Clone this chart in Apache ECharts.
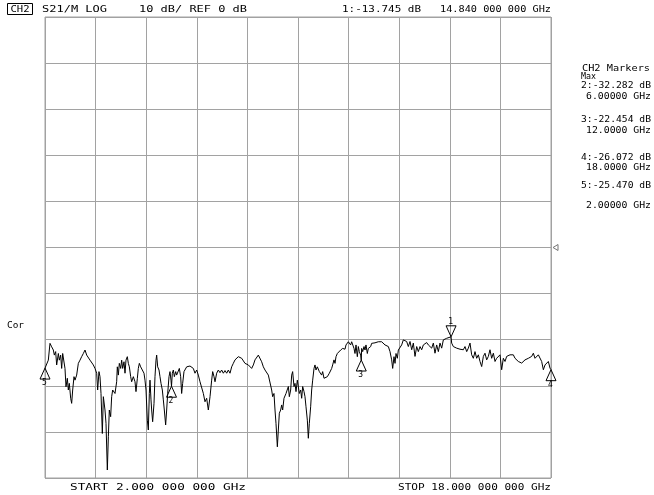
<!DOCTYPE html>
<html>
<head>
<meta charset="utf-8">
<title>CH2 S21 transmission</title>
<script src="https://cdn.jsdelivr.net/npm/echarts@6/dist/echarts.min.js"></script>
<style>
  html, body { margin: 0; padding: 0; background: #fff; }
  #chart { width: 654px; height: 495px; }
</style>
</head>
<body>
<div id="chart"></div>
<script>
// Sweep settings
const startGHz = 2;
const stopGHz = 18;
const divisions = 10;
// Vertical span of the graticule, in dB
const dbMin = -66.7;
const dbMax = 106.2;

// Measured S21 trace (frequency in GHz, magnitude in dB)
const traceGHz = [
  2.000, 2.105, 2.158, 2.211, 2.264, 2.295, 2.337, 2.369, 2.422, 2.453, 2.495, 2.527, 2.559, 2.601, 2.632, 2.664,
  2.706, 2.738, 2.769, 2.812, 2.843, 2.875, 2.917, 2.949, 3.001, 3.054, 3.107, 3.159, 3.212, 3.265, 3.318, 3.370,
  3.423, 3.476, 3.528, 3.581, 3.634, 3.665, 3.707, 3.739, 3.771, 3.813, 3.845, 3.897, 3.929, 3.971, 4.003, 4.034,
  4.076, 4.108, 4.140, 4.182, 4.213, 4.266, 4.287, 4.319, 4.350, 4.393, 4.424, 4.456, 4.498, 4.530, 4.561, 4.603,
  4.635, 4.667, 4.709, 4.740, 4.793, 4.846, 4.877, 4.920, 4.951, 4.983, 5.025, 5.057, 5.088, 5.130, 5.162, 5.194,
  5.236, 5.267, 5.299, 5.320, 5.352, 5.373, 5.404, 5.447, 5.478, 5.510, 5.531, 5.563, 5.605, 5.636, 5.668, 5.710,
  5.742, 5.773, 5.815, 5.847, 5.879, 5.921, 5.953, 5.984, 6.000, 6.026, 6.058, 6.090, 6.132, 6.163, 6.216, 6.248,
  6.290, 6.321, 6.353, 6.395, 6.427, 6.480, 6.532, 6.585, 6.638, 6.690, 6.743, 6.796, 6.848, 6.901, 6.954, 7.007,
  7.059, 7.112, 7.165, 7.218, 7.270, 7.302, 7.344, 7.376, 7.428, 7.481, 7.534, 7.586, 7.639, 7.692, 7.745, 7.797,
  7.850, 7.903, 7.955, 8.008, 8.061, 8.113, 8.166, 8.219, 8.272, 8.324, 8.377, 8.430, 8.482, 8.535, 8.588, 8.640,
  8.693, 8.746, 8.799, 8.851, 8.904, 8.957, 9.009, 9.062, 9.115, 9.167, 9.199, 9.241, 9.273, 9.304, 9.347, 9.378,
  9.410, 9.452, 9.484, 9.515, 9.557, 9.589, 9.621, 9.663, 9.695, 9.726, 9.768, 9.800, 9.831, 9.874, 9.905, 9.937,
  9.979, 10.011, 10.042, 10.084, 10.116, 10.148, 10.190, 10.221, 10.253, 10.295, 10.327, 10.358, 10.400, 10.432, 10.464, 10.506,
  10.538, 10.569, 10.611, 10.643, 10.675, 10.717, 10.748, 10.780, 10.822, 10.854, 10.885, 10.928, 10.959, 10.991, 11.033, 11.065,
  11.096, 11.138, 11.170, 11.202, 11.244, 11.276, 11.307, 11.349, 11.381, 11.413, 11.455, 11.486, 11.518, 11.560, 11.592, 11.623,
  11.665, 11.697, 11.729, 11.771, 11.802, 11.834, 11.876, 11.908, 11.939, 11.981, 12.000, 12.013, 12.045, 12.087, 12.119, 12.150,
  12.192, 12.224, 12.256, 12.298, 12.329, 12.382, 12.435, 12.488, 12.540, 12.593, 12.646, 12.698, 12.751, 12.804, 12.857, 12.909,
  12.962, 12.994, 13.036, 13.068, 13.099, 13.141, 13.173, 13.226, 13.278, 13.331, 13.384, 13.436, 13.489, 13.542, 13.595, 13.647,
  13.700, 13.753, 13.805, 13.858, 13.911, 13.963, 14.016, 14.069, 14.122, 14.174, 14.227, 14.280, 14.332, 14.385, 14.438, 14.490,
  14.543, 14.596, 14.649, 14.701, 14.754, 14.840, 14.859, 14.912, 14.965, 15.017, 15.070, 15.123, 15.176, 15.228, 15.281, 15.334,
  15.386, 15.439, 15.492, 15.544, 15.597, 15.650, 15.703, 15.755, 15.808, 15.861, 15.913, 15.966, 16.019, 16.071, 16.124, 16.177,
  16.230, 16.282, 16.335, 16.388, 16.440, 16.493, 16.546, 16.598, 16.651, 16.704, 16.757, 16.809, 16.862, 16.915, 16.967, 17.020,
  17.073, 17.125, 17.178, 17.231, 17.284, 17.336, 17.389, 17.442, 17.494, 17.547, 17.600, 17.653, 17.705, 17.758, 17.811, 17.863,
  17.916, 17.969, 18.000
];
const traceDb = [
  -25.5, -22.5, -16.2, -17.5, -18.7, -20.6, -19.3, -24.3, -20.0, -22.5, -20.6, -25.6, -20.0, -19.3, -25.6, -32.5,
  -29.3, -33.7, -31.2, -36.8, -38.7, -33.7, -28.7, -30.0, -28.1, -23.7, -22.5, -21.2, -20.0, -18.7, -20.6, -21.2,
  -22.5, -23.1, -24.3, -25.6, -27.4, -33.7, -26.8, -28.7, -35.0, -50.0, -36.2, -41.2, -46.2, -63.7, -51.2, -41.2,
  -43.7, -36.2, -33.7, -33.1, -35.0, -30.6, -25.0, -28.1, -23.7, -25.6, -22.5, -25.6, -23.1, -27.4, -22.5, -21.2,
  -23.7, -25.0, -28.7, -30.6, -28.7, -30.6, -34.3, -29.3, -25.6, -23.7, -25.0, -24.3, -25.6, -27.4, -30.0, -33.7,
  -45.0, -48.7, -35.0, -30.0, -37.4, -41.2, -45.6, -38.7, -28.7, -22.5, -20.6, -25.0, -26.2, -28.7, -31.2, -33.7,
  -37.4, -41.2, -46.8, -41.2, -35.0, -28.7, -26.8, -30.0, -32.282, -27.4, -26.2, -28.7, -26.8, -28.1, -27.4, -25.6,
  -28.7, -35.0, -31.2, -26.8, -26.2, -25.0, -25.6, -24.7, -25.2, -25.6, -27.4, -26.2, -28.1, -30.6, -31.2, -35.0,
  -38.1, -36.8, -41.2, -36.2, -30.0, -26.8, -28.7, -30.6, -27.4, -26.2, -27.2, -26.2, -27.4, -26.4, -27.4, -26.2,
  -27.4, -25.0, -23.7, -22.4, -21.8, -21.2, -20.6, -21.8, -21.2, -23.7, -23.1, -24.3, -23.7, -25.6, -24.3, -22.4,
  -21.8, -20.6, -21.2, -23.1, -25.0, -26.2, -26.8, -28.1, -28.7, -33.7, -36.2, -35.0, -41.2, -46.2, -55.0, -48.7,
  -42.4, -41.2, -39.3, -41.2, -36.8, -37.4, -35.0, -35.6, -32.4, -36.2, -33.7, -28.1, -26.8, -32.4, -31.2, -34.3,
  -30.0, -30.6, -35.0, -33.7, -36.8, -32.4, -34.3, -36.2, -40.0, -45.0, -51.8, -46.2, -40.0, -33.7, -30.0, -25.6,
  -24.3, -26.2, -25.0, -25.6, -26.8, -26.2, -28.1, -26.8, -29.3, -28.7, -30.0, -28.7, -29.3, -27.4, -28.1, -25.6,
  -24.3, -22.4, -23.7, -21.2, -20.0, -20.6, -19.3, -18.7, -19.3, -18.1, -17.4, -18.4, -16.8, -16.2, -15.6, -16.2,
  -16.8, -15.6, -16.2, -18.1, -20.0, -16.8, -21.2, -17.4, -19.3, -20.6, -22.454, -18.1, -19.3, -17.4, -18.7, -16.8,
  -20.0, -18.1, -18.7, -17.4, -16.2, -16.8, -16.0, -16.2, -15.6, -16.2, -15.6, -16.2, -16.8, -16.2, -17.4, -19.3,
  -22.4, -25.6, -21.2, -23.7, -20.0, -21.8, -18.7, -18.6, -16.8, -14.9, -14.2, -15.5, -17.4, -15.5, -18.6, -16.1,
  -21.1, -17.4, -19.3, -17.4, -18.6, -16.8, -17.4, -15.9, -16.8, -16.1, -18.0, -16.1, -19.9, -16.8, -19.3, -16.1,
  -18.0, -14.9, -15.5, -14.3, -14.9, -13.745, -16.1, -17.4, -16.8, -18.0, -17.4, -18.4, -18.0, -18.6, -17.4, -19.3,
  -18.0, -16.1, -20.5, -21.8, -19.3, -21.8, -20.5, -23.0, -24.9, -21.1, -19.9, -22.4, -21.1, -18.6, -21.8, -19.9,
  -23.0, -21.8, -22.4, -20.5, -26.1, -21.8, -23.0, -21.1, -21.8, -20.5, -21.1, -20.5, -21.8, -21.1, -23.0, -22.4,
  -23.6, -23.0, -22.4, -23.0, -21.8, -22.4, -21.1, -19.9, -21.8, -21.1, -20.5, -19.9, -23.0, -26.1, -24.3, -24.9,
  -23.0, -25.5, -26.072
];

// Markers: number, frequency (GHz), readout (dB)
const markerNo = [1, 2, 3, 4, 5];
const markerGHz = [14.84, 6, 12, 18, 2];
const markerDb = [-13.745, -32.282, -22.454, -26.072, -25.470];
const activeMarker = 1;

// Header annotations
const channelName = 'CH2';
const paramText = 'S21/M LOG';
const scaleText = '10 dB/ REF 0 dB';
const corText = 'Cor';

const INK = '#000';
const GRID = '#a2a2a2';
const FONT = '"DejaVu Sans Mono", "Liberation Mono", monospace';

function groupedGHz(v) {
  const s = v.toFixed(9);
  const dot = s.indexOf('.');
  const frac = s.slice(dot + 1);
  return s.slice(0, dot + 1) + frac.slice(0, 3) + ' ' + frac.slice(3, 6) + ' ' + frac.slice(6, 9) + ' GHz';
}
function markerReadout(i) {
  return markerNo[i] + ':' + markerDb[i].toFixed(3) + ' dB';
}

const measureCtx = document.createElement('canvas').getContext('2d');
// A text element stretched horizontally to a given width
function label(str, x, y, size, width, align) {
  const font = size + 'px ' + FONT;
  measureCtx.font = font;
  const natural = measureCtx.measureText(str).width || 1;
  const sx = width ? width / natural : 1;
  const a = align || 'left';
  return {
    type: 'text', x: x, y: y, scaleX: sx, scaleY: 1, silent: true,
    style: {
      text: str, font: font, fill: INK,
      textAlign: a, align: a,
      textVerticalAlign: 'middle', verticalAlign: 'middle'
    }
  };
}

const chart = echarts.init(document.getElementById('chart'), null, { renderer: 'canvas' });

const divAxis = {
  type: 'value', min: 0, max: divisions, interval: 1,
  axisLine: { show: false }, axisTick: { show: false }, axisLabel: { show: false },
  splitLine: { show: true, lineStyle: { color: GRID, width: 1 } }
};

function renderMarker(params, api) {
  const p = api.coord([api.value(0), api.value(1)]);
  const no = api.value(2);
  const w = 10, h = 11;
  const down = no === activeMarker;
  const pts = down
    ? [[p[0], p[1]], [p[0] - w / 2, p[1] - h], [p[0] + w / 2, p[1] - h]]
    : [[p[0], p[1]], [p[0] - w / 2, p[1] + h], [p[0] + w / 2, p[1] + h]];
  const ty = down ? p[1] - h - 4 : p[1] + h + 4;
  return {
    type: 'group',
    children: [
      { type: 'polygon', shape: { points: pts }, style: { fill: 'none', stroke: INK, lineWidth: 1 } },
      { type: 'text', x: p[0] - 0.5, y: ty,
        style: { text: String(no), font: '8px ' + FONT, fill: INK,
                 textAlign: 'center', align: 'center', textVerticalAlign: 'middle', verticalAlign: 'middle' } }
    ]
  };
}

function renderRefArrow(params, api) {
  const p = api.coord([api.value(0), api.value(1)]);
  const x = p[0] + 2;
  return {
    type: 'polygon',
    shape: { points: [[x, p[1]], [x + 5, p[1] - 3], [x + 5, p[1] + 3]] },
    style: { fill: 'none', stroke: '#777', lineWidth: 1 }
  };
}

const option = {
  animation: false,
  backgroundColor: '#fff',
  grid: { left: 45, top: 17, width: 506, height: 461, show: true, borderColor: GRID, borderWidth: 1, backgroundColor: 'transparent' },
  xAxis: [
    { type: 'value', min: startGHz, max: stopGHz, show: false },
    Object.assign({}, divAxis)
  ],
  yAxis: [
    { type: 'value', min: dbMin, max: dbMax, show: false },
    Object.assign({}, divAxis)
  ],
  series: [
    {
      type: 'line', xAxisIndex: 0, yAxisIndex: 0,
      data: traceGHz.map((f, i) => [f, traceDb[i]]),
      symbol: 'none', showSymbol: false,
      lineStyle: { color: INK, width: 1 },
      z: 3
    },
    {
      type: 'custom', xAxisIndex: 0, yAxisIndex: 0, clip: false, z: 4,
      renderItem: renderMarker,
      data: markerGHz.map((f, i) => [f, markerDb[i], markerNo[i]])
    },
    {
      type: 'custom', xAxisIndex: 1, yAxisIndex: 1, clip: false, z: 4,
      renderItem: renderRefArrow,
      data: [[divisions, divisions / 2]]
    }
  ]
};
chart.setOption(option);

// Instrument annotations around the graticule
const a = markerNo.indexOf(activeMarker);
const others = markerNo.map((n, i) => i).filter(i => i !== a);
const panel = [
  label('CH2 Markers', 650, 69, 8.5, 68, 'right'),
  label('Max', 581, 76.5, 8.5, 15, 'left')
];
const panelRows = [[86, 97], [120, 131], [158, 168], [186, 206]];
others.forEach((i, k) => {
  panel.push(label(markerReadout(i), 651, panelRows[k][0], 8.5, 70, 'right'));
  panel.push(label(markerGHz[i].toPrecision(6) + ' GHz', 651, panelRows[k][1], 8.5, 65, 'right'));
});

chart.setOption({
  graphic: [
    { type: 'rect', shape: { x: 7.5, y: 3.5, width: 25, height: 11 }, style: { fill: 'none', stroke: INK, lineWidth: 1 }, silent: true },
    label(channelName, 20, 9.5, 9, 19, 'center'),
    label(paramText, 42, 10, 9, 65),
    label(scaleText, 139, 10, 9, 108),
    label(markerReadout(a), 342, 10, 9, 79),
    label(groupedGHz(markerGHz[a]), 551, 10, 9, 111, 'right'),
    label(corText, 7, 325.5, 8.5, 17),
    label('START ' + groupedGHz(startGHz), 70, 488, 9, 176),
    label('STOP ' + groupedGHz(stopGHz), 398, 488, 9, 153)
  ].concat(panel)
});
</script>
</body>
</html>
